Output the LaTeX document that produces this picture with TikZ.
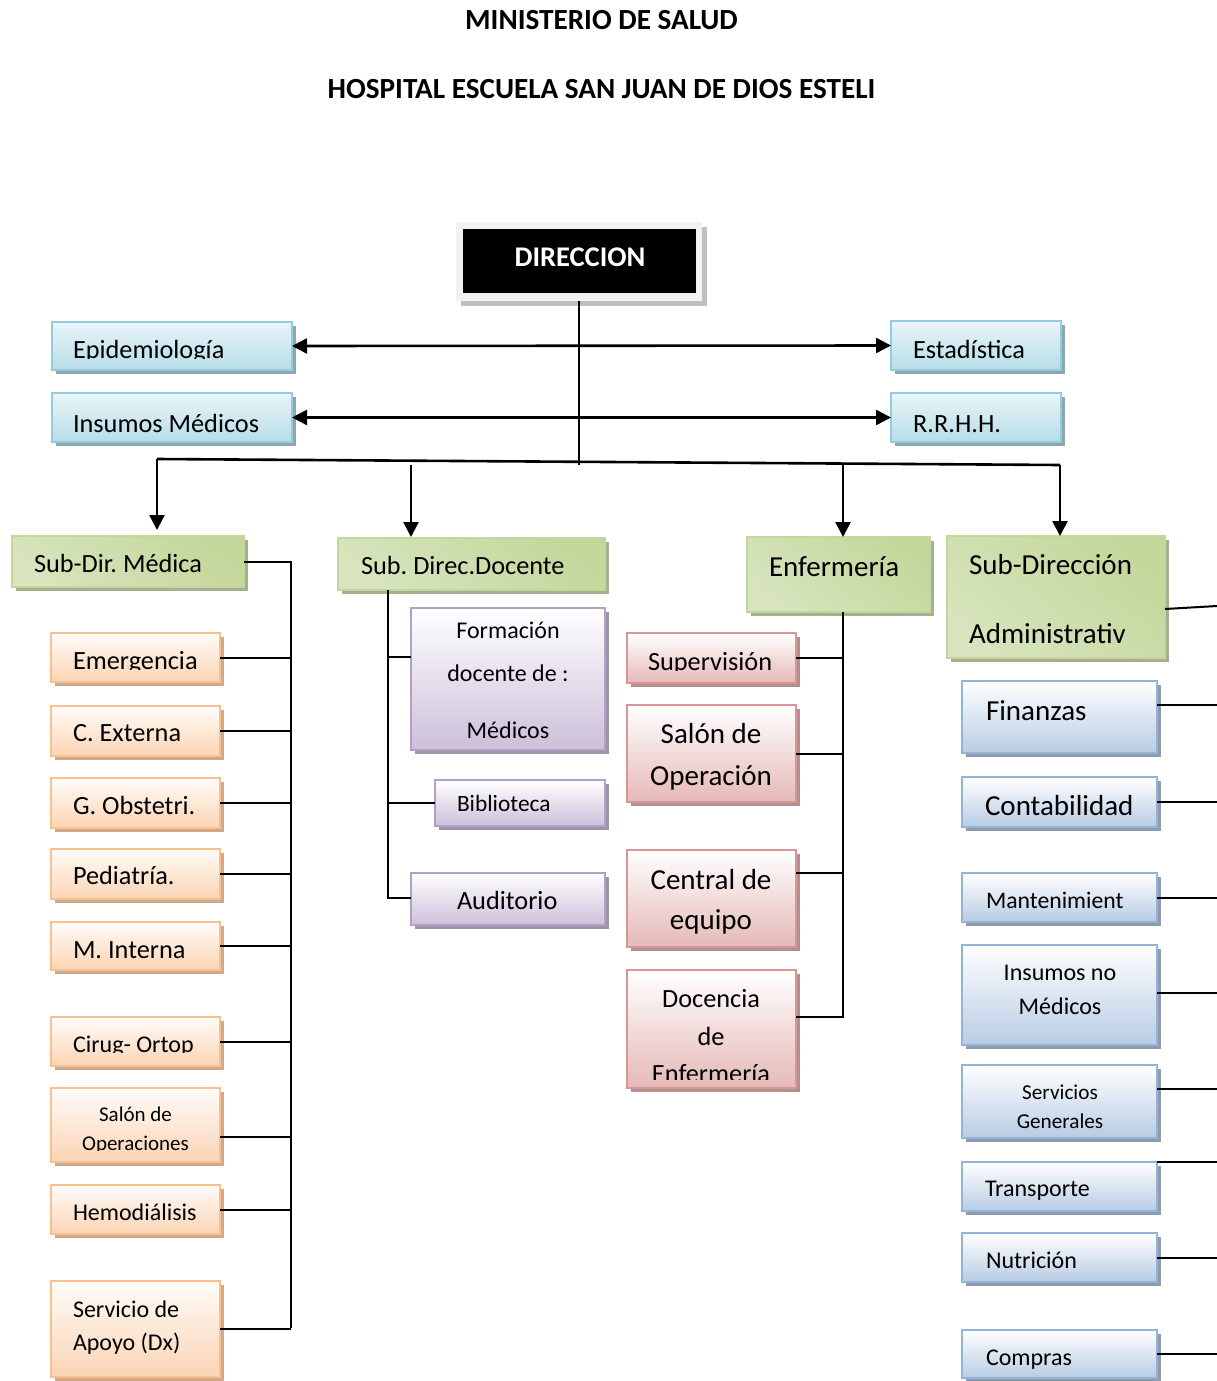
\documentclass[tikz,border=0pt]{standalone}
\usepackage{fontspec}
\setmainfont{Carlito}
\usetikzlibrary{arrows.meta,shadows}
\definecolor{cyB}{HTML}{93CDDD}\definecolor{cyT}{HTML}{EAF5F9}\definecolor{cyD}{HTML}{B7DDE8}\definecolor{cyS}{HTML}{8CA7B0}
\definecolor{grB}{HTML}{C3D69B}\definecolor{grDk}{HTML}{C4D79B}\definecolor{grMd}{HTML}{EBF1DE}\definecolor{grLo}{HTML}{D7E4BD}\definecolor{grS}{HTML}{A6B08F}
\definecolor{orB}{HTML}{FAC090}\definecolor{orT}{HTML}{FFFCF9}\definecolor{orD}{HTML}{FBD4B4}\definecolor{orS}{HTML}{CFA98A}
\definecolor{puB}{HTML}{B2A1C7}\definecolor{puT}{HTML}{FFFFFF}\definecolor{puD}{HTML}{CCC0DA}\definecolor{puS}{HTML}{9E93AB}
\definecolor{rdB}{HTML}{D99694}\definecolor{rdT}{HTML}{FFFFFF}\definecolor{rdD}{HTML}{E5B9B7}\definecolor{rdS}{HTML}{B09090}
\definecolor{blB}{HTML}{95B3D7}\definecolor{blT}{HTML}{FFFFFF}\definecolor{blD}{HTML}{B8CCE4}\definecolor{blS}{HTML}{8E9BAE}
\definecolor{frm}{HTML}{F2F2F2}\definecolor{frmS}{HTML}{BFBFBF}
\newcommand\fsz[1]{\fontsize{#1}{#1}\selectfont\frenchspacing}
\newcommand\mkbox[6]{\node[#2, minimum width={(#5)-(#3)}, minimum height={(#6)-(#4)}] (#1) at ({((#3)+(#5))/2},{((#4)+(#6))/2}) {};}
\newcommand\Ltxt[5]{\node[lblw, font=\fsz{#2}] (#1) at (#3,#4) {#5};}
\newcommand\Ctxt[5]{\node[lblc, font=\fsz{#2}] (#1) at (#3,#4) {#5};}
\newcommand\ClipTo[3]{\begin{scope}\clip (#1.north west) rectangle (#1.east |- 0,#2); #3 \end{scope}}
\tikzset{
  every node/.style={inner sep=0pt, outer sep=0pt},
  bxx/.style={rectangle, line width=2pt},
  cybox/.style={bxx, draw=cyB, top color=cyT, bottom color=cyD, drop shadow={shadow xshift=4pt, shadow yshift=-4pt, fill=cyS, opacity=1}},
  grbox/.style={bxx, draw=grB, top color=grDk, middle color=grMd, bottom color=grLo, shading angle=-40, drop shadow={shadow xshift=4pt, shadow yshift=-4pt, fill=grS, opacity=1}},
  orbox/.style={bxx, draw=orB, top color=orT, bottom color=orD, drop shadow={shadow xshift=4pt, shadow yshift=-4pt, fill=orS, opacity=1}},
  pubox/.style={bxx, draw=puB, top color=puT, bottom color=puD, drop shadow={shadow xshift=4pt, shadow yshift=-4pt, fill=puS, opacity=1}},
  rdbox/.style={bxx, draw=rdB, top color=rdT, bottom color=rdD, drop shadow={shadow xshift=4pt, shadow yshift=-4pt, fill=rdS, opacity=1}},
  blbox/.style={bxx, draw=blB, top color=blT, bottom color=blD, drop shadow={shadow xshift=4pt, shadow yshift=-4pt, fill=blS, opacity=1}},
  lblw/.style={anchor=base west},
  lblc/.style={anchor=base},
  conn/.style={line width=2pt},
  bus/.style={line width=2.6pt},
  arr/.style={line width=2.6pt, -{Triangle[length=15pt,width=15pt]}},
  darr/.style={line width=2.6pt, {Triangle[length=15pt,width=15pt]}-{Triangle[length=15pt,width=15pt]}},
}
\begin{document}
\begin{tikzpicture}[x=1pt,y=-1pt]
\useasboundingbox[fill=white] (0,0) rectangle (1217,1381);
% titles
\node[lblc, font=\fsz{29.2}\bfseries] (t1) at (601.5,29.5) {MINISTERIO DE SALUD};
\node[lblc, font=\fsz{29.2}\bfseries] (t2) at (601.5,98) {HOSPITAL ESCUELA SAN JUAN DE DIOS ESTELI};
% direccion
\mkbox{dirf}{rectangle, fill=frm, drop shadow={shadow xshift=5pt, shadow yshift=-5pt, fill=frmS, opacity=1}}{456}{222}{702}{301}
\mkbox{dir}{rectangle, fill=black}{463}{229}{696}{293}
\node[lblc, font=\fsz{28.5}\bfseries, text=white] (dirt) at (580,266) {DIRECCION};
% cyan boxes
\mkbox{epi}{cybox}{52}{322}{292}{370}
\mkbox{est}{cybox}{891}{321}{1061}{370}
\mkbox{ins}{cybox}{52}{393}{292}{442}
\mkbox{rrh}{cybox}{891}{393}{1061}{442}
\ClipTo{epi}{358}{\Ltxt{epit}{26.3}{73}{358}{Epidemiología}}
\Ltxt{estt}{26.3}{913}{358}{Estadística}
\Ltxt{inst}{26.3}{73}{432}{Insumos Médicos}
\ClipTo{rrh}{432}{\Ltxt{rrht}{26.3}{913}{432}{R.R.H.H.}}
% main vertical and arrows
\coordinate (j0) at (580,465);
\draw[conn] (dirf.south) -- (dirf.south |- j0);
\draw[darr] (epi.east) -- (est.west);
\draw[darr] (ins.east) -- (rrh.west);
% green boxes
\mkbox{sdm}{grbox}{12}{536}{244}{587}
\mkbox{sdd}{grbox}{338}{538}{605}{590}
\mkbox{enf}{grbox}{747}{537}{930}{612}
\mkbox{sda}{grbox}{947}{536}{1165}{658}
\Ltxt{sdmt}{26.3}{34}{572}{Sub-Dir. Médica}
\Ltxt{sddt}{26.3}{361}{574}{Sub. Direc.Docente}
\Ltxt{enft}{29}{769}{576}{Enfermería}
\Ltxt{sdat}{29}{969}{574}{Sub-Dirección}
\Ltxt{sdat2}{29}{969}{643}{Administrativ}
% bus
\coordinate (hL) at (157,459);
\coordinate (hR) at (1060,465);
\coordinate (a2) at (411,465);
\coordinate (a3) at (843,464);
\draw[bus] (hL) -- (hR);
\draw[arr, shorten >=6pt] (hL) -- (hL |- sdm.north);
\draw[arr, shorten >=1pt] (a2) -- (a2 |- sdd.north);
\draw[arr] (a3) -- (a3 |- enf.north);
\draw[arr] (hR) -- (hR |- sda.north);
% orange column
\mkbox{emer}{orbox}{51}{633}{220}{682}
\mkbox{cext}{orbox}{51}{706}{220}{756}
\mkbox{gobs}{orbox}{51}{778}{220}{828}
\mkbox{ped}{orbox}{51}{849}{220}{899}
\mkbox{mint}{orbox}{51}{922}{220}{970}
\mkbox{cir}{orbox}{51}{1017}{220}{1066}
\mkbox{salop}{orbox}{51}{1088}{220}{1162}
\mkbox{hemo}{orbox}{51}{1185}{220}{1234}
\mkbox{apoyo}{orbox}{51}{1281}{220}{1377}
\ClipTo{emer}{669}{\Ltxt{emert}{26.3}{73}{669}{Emergencia}}
\Ltxt{cextt}{26.3}{73}{741}{C. Externa}
\Ltxt{gobst}{26.3}{73}{814}{G. Obstetri.}
\ClipTo{ped}{884}{\Ltxt{pedt}{26.3}{73}{884}{Pediatría.}}
\ClipTo{mint}{958}{\Ltxt{mintt}{26.3}{73}{958}{M. Interna}}
\ClipTo{cir}{1052}{\Ltxt{cirt}{24}{73}{1052}{Cirug- Ortop}}
\Ctxt{salopt}{21}{135.5}{1121}{Salón de}
\ClipTo{salop}{1150}{\Ctxt{salopt2}{21}{135.5}{1150}{Operaciones}}
\Ltxt{hemot}{24}{73}{1220}{Hemodiálisis}
\Ltxt{apoyot}{24}{73}{1317}{Servicio de}
\Ltxt{apoyot2}{24}{73}{1350}{Apoyo (Dx)}
\coordinate (vmB) at (291,1328);
\draw[conn] (sdm.east) -| (vmB);
\foreach \b in {emer,cext,gobs,ped,mint,cir,hemo,apoyo} {\draw[conn] (\b.east) -- (\b.east -| vmB);}
\draw[conn] (salop.east |- 0,1137) -- (vmB |- 0,1137);
% purple column
\mkbox{form}{pubox}{411}{608}{605}{750}
\mkbox{bibl}{pubox}{435}{780}{605}{826}
\mkbox{aud}{pubox}{411}{873}{605}{925}
\Ctxt{formt1}{24}{508}{638}{Formación}
\Ctxt{formt2}{24}{508}{681}{docente de :}
\Ctxt{formt3}{24}{508}{738}{Médicos}
\Ltxt{biblt}{23.4}{457}{811}{Biblioteca}
\Ltxt{audt}{26.3}{457}{909}{Auditorio}
\coordinate (vdB) at (388,898);
\draw[conn] (sdd.south -| vdB) -- (vdB) -- (aud.west |- vdB);
\draw[conn] (vdB |- 0,657) -- (form.west |- 0,657);
\draw[conn] (vdB |- bibl.west) -- (bibl.west);
% red column
\mkbox{sup}{rdbox}{627}{633}{796}{683}
\mkbox{salon}{rdbox}{627}{705}{796}{802}
\mkbox{cent}{rdbox}{627}{850}{796}{947}
\mkbox{doc}{rdbox}{627}{970}{796}{1088}
\ClipTo{sup}{670}{\Ltxt{supt}{26.3}{648}{670}{Supervisión}}
\Ctxt{salont1}{29}{711}{743}{Salón de}
\Ctxt{salont2}{29}{711}{785}{Operación}
\Ctxt{centt1}{29}{711}{889}{Central de}
\Ctxt{centt2}{29}{711}{929}{equipo}
\Ctxt{doct1}{26.3}{711}{1007}{Docencia}
\Ctxt{doct2}{26.3}{711}{1045}{de}
\ClipTo{doc}{1079}{\Ctxt{doct3}{26.3}{711}{1082}{Enfermería}}
\coordinate (veB) at (843,1017);
\draw[conn] (enf.south -| veB) -- (veB) -- (doc.east |- veB);
\draw[conn] (sup.east) -- (sup.east -| veB);
\draw[conn] (salon.east) -- (salon.east -| veB);
\draw[conn] (cent.east |- 0,873) -- (veB |- 0,873);
% blue column
\mkbox{fin}{blbox}{962}{681}{1157}{753}
\mkbox{cont}{blbox}{962}{777}{1157}{827}
\mkbox{mant}{blbox}{962}{873}{1157}{922}
\mkbox{insn}{blbox}{962}{945}{1157}{1045}
\mkbox{serv}{blbox}{962}{1065}{1157}{1138}
\mkbox{trans}{blbox}{962}{1162}{1157}{1211}
\mkbox{nut}{blbox}{962}{1233}{1157}{1282}
\mkbox{comp}{blbox}{962}{1330}{1157}{1378}
\Ltxt{fint}{29}{986}{720}{Finanzas}
\ClipTo{cont}{815}{\Ltxt{contt}{29}{985}{815}{Contabilidad}}
\Ltxt{mantt}{23.7}{986}{908}{Mantenimient}
\Ctxt{insnt1}{24}{1060}{980}{Insumos no}
\Ctxt{insnt2}{24}{1060}{1014}{Médicos}
\Ctxt{servt1}{21.2}{1060}{1099}{Servicios}
\Ctxt{servt2}{21.2}{1060}{1128}{Generales}
\Ltxt{transt}{24}{985}{1196}{Transporte}
\Ltxt{nutt}{24}{986}{1268}{Nutrición}
\Ltxt{compt}{24}{986}{1365}{Compras}
\coordinate (rE) at (1217,0);
\draw[conn] (sda.east |- 0,609) -- (1217,606);
\draw[conn] (fin.east |- 0,705) -- (rE |- 0,705);
\draw[conn] (cont.east) -- (cont.east -| rE);
\draw[conn] (mant.east) -- (mant.east -| rE);
\draw[conn] (insn.east |- 0,993) -- (rE |- 0,993);
\draw[conn] (serv.east |- 0,1089) -- (rE |- 0,1089);
\draw[conn] (trans.north east) -- (trans.north east -| rE);
\draw[conn] (nut.east) -- (nut.east -| rE);
\draw[conn] (comp.east) -- (comp.east -| rE);
\end{tikzpicture}
\end{document}
